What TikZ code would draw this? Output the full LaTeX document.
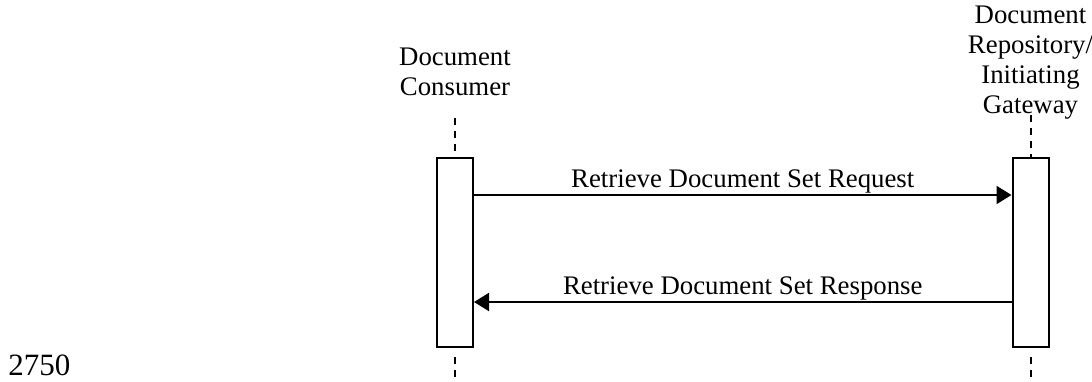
\documentclass[tikz,border=0pt]{standalone}
\usepackage{fontspec}
\setmainfont{Liberation Serif}
\usetikzlibrary{arrows.meta}

\tikzset{
  actbox/.style={draw, line width=1pt, minimum width=18pt, minimum height=94.5pt, inner sep=0pt},
  lifeline/.style={line width=1pt, dash pattern=on 3.5pt off 3pt},
  msg/.style={line width=1pt, -{Triangle[length=7.5pt,width=9pt]}},
  lbl/.style={font=\fontsize{13.4pt}{15pt}\selectfont, align=center, inner sep=0pt}
}

\begin{document}
\begin{tikzpicture}[x=0.5pt,y=-0.5pt]
\useasboundingbox (0,0) rectangle (1092,381);
% actors
\node[lbl, anchor=base] (conslbl) at (455,95) {Document\\Consumer};
\node[lbl, anchor=base] (repolbl) at (1030.5,113) {Document\\Repository/\\Initiating\\Gateway};
% activation boxes
\node[actbox] (cons) at (455,252.5) {};
\node[actbox] (repo) at (1030.5,252.5) {};
% lifelines
\coordinate(constop) at (455,118);
\coordinate(repotop) at (1030.5,115);
\draw[lifeline] (constop) -- (cons.north);
\draw[lifeline] (repotop) -- (repo.north);
\draw[lifeline] ([yshift=-4.5pt]cons.south) -- ++(0,33);
\draw[lifeline] ([yshift=-4.5pt]repo.south) -- ++(0,33);
% messages
\coordinate(req) at (0,195);
\coordinate(resp) at (0,302);
\draw[msg] (cons.east |- req) -- node[lbl, above=0.3pt] (reqlbl) {Retrieve Document Set Request} (repo.west |- req);
\draw[msg] (repo.west |- resp) -- node[lbl, above=0.6pt] (resplbl) {Retrieve Document Set Response} (cons.east |- resp);
% line number
\node[lbl, font=\fontsize{15.5pt}{17pt}\selectfont, anchor=base west] (lineno) at (8,375) {2750};
\end{tikzpicture}
\end{document}
